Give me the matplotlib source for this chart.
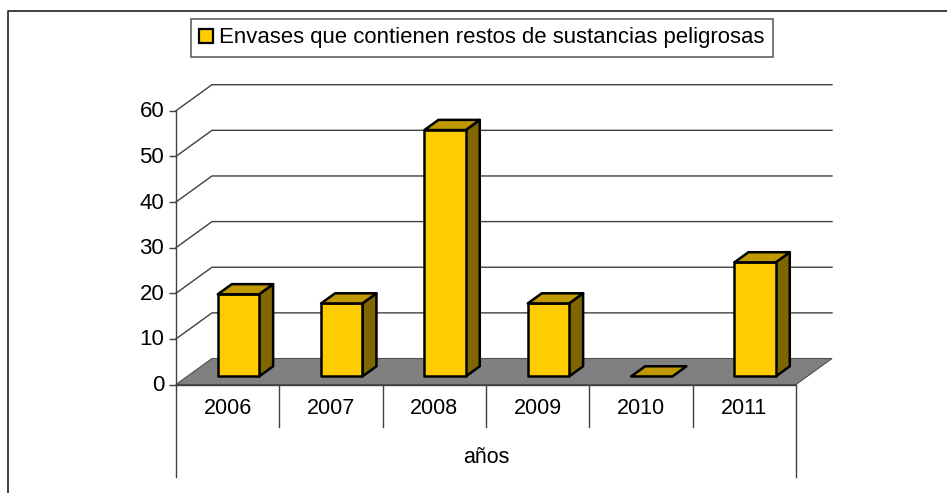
#!/usr/bin/env python3
# -*- coding: utf-8 -*-
import matplotlib
matplotlib.use('Agg')
import matplotlib.pyplot as plt
from matplotlib.lines import Line2D
from matplotlib.patches import Polygon, Rectangle
from matplotlib.transforms import ScaledTranslation

anios = ['2006', '2007', '2008', '2009', '2010', '2011']
valores = [18, 16, 54, 16, 0, 25]
yticks = [0, 10, 20, 30, 40, 50, 60]
serie = 'Envases que contienen restos de sustancias peligrosas'
eje_x = 'años'

W, H = 947, 493
AMARILLO = '#ffcc00'
TECHO = '#c09900'
LADO = '#806600'
SUELO = '#808080'
GRIS = '#404040'

plt.rcParams['font.family'] = ['Liberation Sans', 'DejaVu Sans']

fig = plt.figure(figsize=(W / 100, H / 100), dpi=100)
ax = fig.add_axes([176 / W, 1 - 384.5 / H, 620 / W, 273.8 / H])
ax.set_xlim(0, 6)
ax.set_ylim(0, 60)
for s in ax.spines.values():
    s.set_visible(False)

# desplazamiento oblicuo del fondo, en unidades de los ejes
PX = 36 / (620 / 6)
PY = 26 / (273.8 / 60)


def proy(x, y, d):
    return x + d * PX, y + d * PY


def poly(puntos, **kw):
    ax.add_patch(Polygon(puntos, closed=True, clip_on=False, **kw))


# suelo
poly([proy(0, 0, 0), proy(6, 0, 0), proy(6, 0, 1), proy(0, 0, 1)],
     facecolor=SUELO, edgecolor='#505050', linewidth=0.8, zorder=2)

# rejilla: pared del fondo y pared lateral
for v in yticks[1:]:
    ax.plot(*zip(proy(0, v, 0), proy(0, v, 1), proy(6, v, 1)),
            color=GRIS, lw=1, clip_on=False, zorder=1)
ax.plot([0, 0], [0, 60], color=GRIS, lw=1, clip_on=False, zorder=3)

# barras
d0, d1 = 0.31, 0.70
for i, v in enumerate(valores):
    x0, x1 = i + 0.296, i + 0.296 + 0.40
    est = dict(edgecolor='black', linewidth=1.8, joinstyle='round', zorder=4)
    a = proy(x0, 0, d0)
    b = proy(x1, 0, d0)
    c = proy(x1, v, d0)
    e = proy(x0, v, d0)
    c2 = proy(x1, v, d1)
    e2 = proy(x0, v, d1)
    b2 = proy(x1, 0, d1)
    if v > 0:
        poly([b, b2, c2, c], facecolor=LADO, **est)
        poly([a, b, c, e], facecolor=AMARILLO, **est)
    poly([e, c, c2, e2], facecolor=TECHO, **est)

# ejes
ax.set_yticks(yticks)
ax.tick_params(axis='y', length=5, width=1, color=GRIS, pad=3.5, labelsize=16,
               labelcolor='black')
sube = ScaledTranslation(0, 1 / 72, fig.dpi_scale_trans)
for t in ax.get_yticklabels():
    t.set_transform(t.get_transform() + sube)
ax.set_xticks([i + 0.5 for i in range(6)])
ax.set_xticklabels(anios)
ax.tick_params(axis='x', length=0, pad=10, labelsize=15.5, labelcolor='black')
for i in range(7):
    fondo = -92 if i in (0, 6) else -42
    ax.plot([i, i], [0, fondo / (273.8 / 60)], color=GRIS, lw=1,
            clip_on=False, zorder=1)
ax.plot([0, 6], [0, 0], color=GRIS, lw=1, clip_on=False, zorder=3)
ax.set_xlabel(eje_x, fontsize=15.5, labelpad=20)

# leyenda
handle = Rectangle((0, 0), 1, 1, facecolor=AMARILLO, edgecolor='black', linewidth=1.6)
leg = fig.legend([handle], [serie], loc='center', fontsize=15.9,
                 bbox_to_anchor=(482 / W, 1 - 38 / H), fancybox=False,
                 framealpha=1, edgecolor='#606060', handlelength=0.62,
                 handleheight=0.62, handletextpad=0.3, borderpad=0.38)
leg.get_frame().set_linewidth(1.2)

# marco del grafico: solo arriba e izquierda
fig.add_artist(Line2D([7.5 / W, 7.5 / W, 1], [0, 1 - 11 / H, 1 - 11 / H],
                      color='#202020', lw=1.2, transform=fig.transFigure))

fig.savefig('out.png', dpi=100)
